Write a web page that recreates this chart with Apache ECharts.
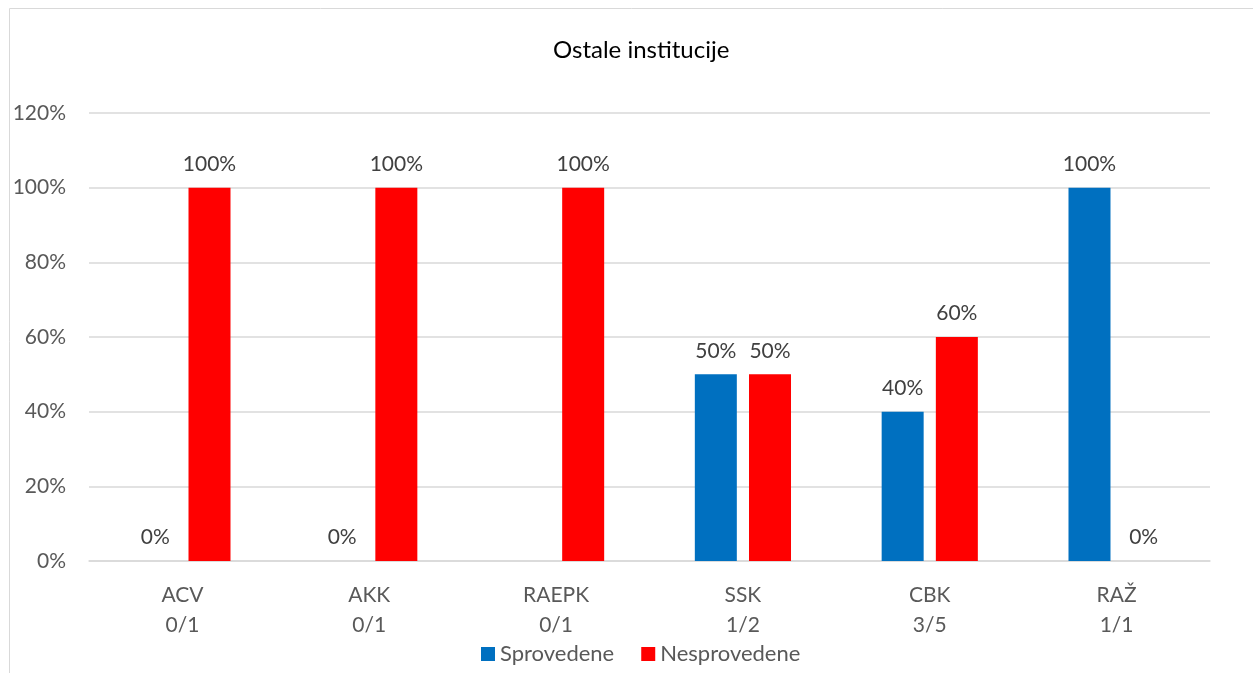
<!DOCTYPE html>
<html><head><meta charset="utf-8">
<script src="https://cdn.jsdelivr.net/npm/echarts@6/dist/echarts.min.js"></script>
<style>html,body{margin:0;padding:0;background:#fff}#c{width:1253px;height:673px}</style>
</head><body><div id="c"></div>
<script>
var categories = ['ACV\n0/1', 'AKK\n0/1', 'RAEPK\n0/1', 'SSK\n1/2', 'CBK\n3/5', 'RAŽ\n1/1'];
var sprovedene = [0, 0, null, 50, 40, 100];
var nesprovedene = [100, 100, 100, 50, 60, 0];
var seriesNames = ['Sprovedene', 'Nesprovedene'];
var titleText = 'Ostale institucije';

var FONT = 'Lato, "Open Sans", sans-serif';
var chart = echarts.init(document.getElementById('c'));
var lbl = {show: true, position: 'top', distance: 13, fontSize: 21, color: '#404040', fontFamily: FONT,
  formatter: function (p) { return p.value == null ? '' : p.value + '%'; }};
chart.setOption({
  animation: false,
  graphic: [{type: 'rect', shape: {x: 9.5, y: 8.5, width: 1300, height: 700}, style: {fill: 'none', stroke: '#d9d9d9', lineWidth: 1}}],
  title: {text: titleText, left: 548, top: 33, textStyle: {fontSize: 24, fontWeight: 'normal', color: '#000', fontFamily: FONT}},
  legend: {bottom: 3, left: 476, itemWidth: 14, itemHeight: 14, itemGap: 27, icon: 'rect',
    textStyle: {fontSize: 22, color: '#595959', fontFamily: FONT}, data: seriesNames},
  grid: {left: 89, right: 43, top: 113, bottom: 112},
  xAxis: {type: 'category', data: categories,
    axisLine: {show: true, lineStyle: {color: '#d9d9d9', width: 1.5}}, axisTick: {show: false},
    axisLabel: {fontSize: 21, color: '#595959', lineHeight: 30, margin: 19, fontFamily: FONT}},
  yAxis: {type: 'value', min: 0, max: 120, interval: 20,
    axisLine: {show: false}, axisTick: {show: false},
    splitLine: {lineStyle: {color: '#d9d9d9', width: 1.5}},
    axisLabel: {fontSize: 21, color: '#595959', margin: 23, fontFamily: FONT, formatter: '{value}%'}},
  series: [
    {name: seriesNames[0], type: 'bar', data: sprovedene, barWidth: 42, barGap: '29%', itemStyle: {color: '#0070C0'}, label: lbl},
    {name: seriesNames[1], type: 'bar', data: nesprovedene, barWidth: 42, barGap: '29%', itemStyle: {color: '#FF0000'}, label: lbl}
  ]
});
</script></body></html>
